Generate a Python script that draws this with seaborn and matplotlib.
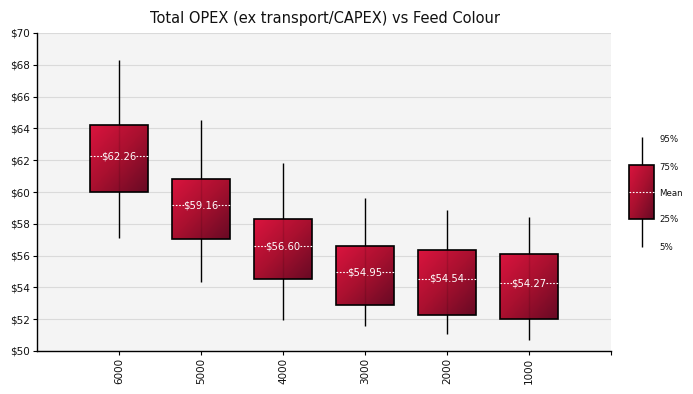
import numpy as np
import pandas as pd
import matplotlib
matplotlib.use("Agg")
import matplotlib.pyplot as plt
import seaborn as sns
from matplotlib.colors import LinearSegmentedColormap

# ---- data ----
categories = ["6000", "5000", "4000", "3000", "2000", "1000"]
p5 = [57.13, 54.34, 51.95, 51.57, 51.07, 50.69]
p25 = [60.00, 57.03, 54.53, 52.87, 52.25, 51.99]
mean = [62.26, 59.16, 56.60, 54.95, 54.54, 54.27]
p75 = [64.20, 60.82, 58.30, 56.58, 56.33, 56.08]
p95 = [68.30, 64.53, 61.82, 59.60, 58.87, 58.43]
y_ticks = list(range(50, 71, 2))
y_labels = [f"${v}" for v in y_ticks]
legend_labels = ["95%", "75%", "Mean", "25%", "5%"]
title = "Total OPEX (ex transport/CAPEX) vs Feed Colour"

df = pd.DataFrame({"colour": categories, "p5": p5, "p25": p25,
                   "mean": mean, "p75": p75, "p95": p95})
df["iqr"] = df["p75"] - df["p25"]

sns.set_theme(style="white")
plt.rcParams["font.family"] = ["DejaVu Sans"]

W, H = 693, 394
fig = plt.figure(figsize=(W / 100, H / 100), dpi=100)
ax = fig.add_axes([37 / W, 1 - 351 / H, (611 - 37) / W, (351 - 33) / H])
ax.set_facecolor("#F4F4F4")
ax.set_axisbelow(True)
ax.grid(True, color="#DADADA", lw=0.8)

grad_cmap = LinearSegmentedColormap.from_list(
    "crim", ["#DA143E", "#A8102F", "#680A24"])


def gradient_fill(axis, patch, z):
    bb = patch.get_bbox()
    n = 64
    u = np.linspace(0, 1, n)
    uu, vv = np.meshgrid(u, u)
    t = (uu + vv) / 2
    im = axis.imshow(t, cmap=grad_cmap, vmin=0, vmax=1, aspect="auto",
                     extent=[bb.x0, bb.x1, bb.y0, bb.y1], origin="upper",
                     zorder=z, interpolation="bilinear")
    im.set_clip_path(patch)


xs = np.arange(len(categories))
# whiskers (behind boxes)
ax.vlines(xs, df["p5"], df["p95"], colors="black", lw=1.0, zorder=1.5)

# boxes
sns.barplot(data=df, x="colour", y="iqr", order=categories,
            bottom=df["p25"].values, width=0.7, errorbar=None, ax=ax,
            color="#C0123A", edgecolor="black", linewidth=1.2, zorder=2)

for p in list(ax.patches):
    gradient_fill(ax, p, 2.2)
    p.set_facecolor("none")
    p.set_zorder(2.5)

# faint see-through of the centre line
ax.vlines(xs, df["p25"], df["p75"], colors="black", lw=1.0, alpha=0.12,
          zorder=2.3)

# mean markers
for i, m in enumerate(df["mean"]):
    ax.hlines(m, i - 0.35, i - 0.205, colors="white", lw=0.8,
              linestyles=(0, (1.5, 1.5)), zorder=3)
    ax.hlines(m, i + 0.21, i + 0.35, colors="white", lw=0.8,
              linestyles=(0, (1.5, 1.5)), zorder=3)
    ax.text(i, m, f"${m:.2f}", color="white", fontsize=7.2, ha="center",
            va="center", zorder=3)

ax.set_xlim(-1, len(categories))
ax.set_ylim(50, 70)
ax.set_yticks(y_ticks)
ax.set_yticklabels(y_labels)
ax.set_xticks(range(len(categories)))
ax.set_xticklabels(categories, rotation=90)
ax.set_xticks([len(categories)], minor=True)
ax.set_xlabel("")
ax.set_ylabel("")
ax.tick_params(axis="both", which="both", direction="out", length=3,
               width=0.8, color="black", labelsize=7.5, labelcolor="#111111",
               pad=2)
ax.tick_params(axis="x", which="both", bottom=True)
ax.tick_params(axis="y", left=True)
for side in ["top", "right"]:
    ax.spines[side].set_visible(False)
for side in ["left", "bottom"]:
    ax.spines[side].set_color("black")
    ax.spines[side].set_linewidth(1.0)

fig.text(325 / W, 1 - 18 / H, title, ha="center", va="center", fontsize=10.5,
         color="#111111")

# ---- legend key on the right ----
lax = fig.add_axes([620 / W, 1 - 258 / H, 72 / W, 128 / H])
lax.axis("off")
lax.vlines(641.5, 137, 247, colors="black", lw=1.0, zorder=1)
rect = plt.Rectangle((629, 165), 25, 54, facecolor="none", edgecolor="black",
                     lw=1.2, zorder=3)
lax.add_patch(rect)
n = 64
uu, vv = np.meshgrid(np.linspace(0, 1, n), np.linspace(0, 1, n))
im = lax.imshow((uu + vv) / 2, cmap=grad_cmap, vmin=0, vmax=1, aspect="auto",
                extent=[629, 654, 219, 165], origin="upper", zorder=2,
                interpolation="bilinear")
im.set_clip_path(rect)
lax.set_xlim(620, 692)
lax.set_ylim(258, 130)
lax.hlines(192, 629, 654, colors="white", lw=0.8, linestyles=(0, (1.5, 1.5)),
           zorder=4)
for lab, yy in zip(legend_labels, [139, 167, 193, 220, 248]):
    lax.text(659, yy, lab, fontsize=6.2, va="center", ha="left",
             color="#111111")

fig.savefig("out.png", dpi=100, facecolor="white")
